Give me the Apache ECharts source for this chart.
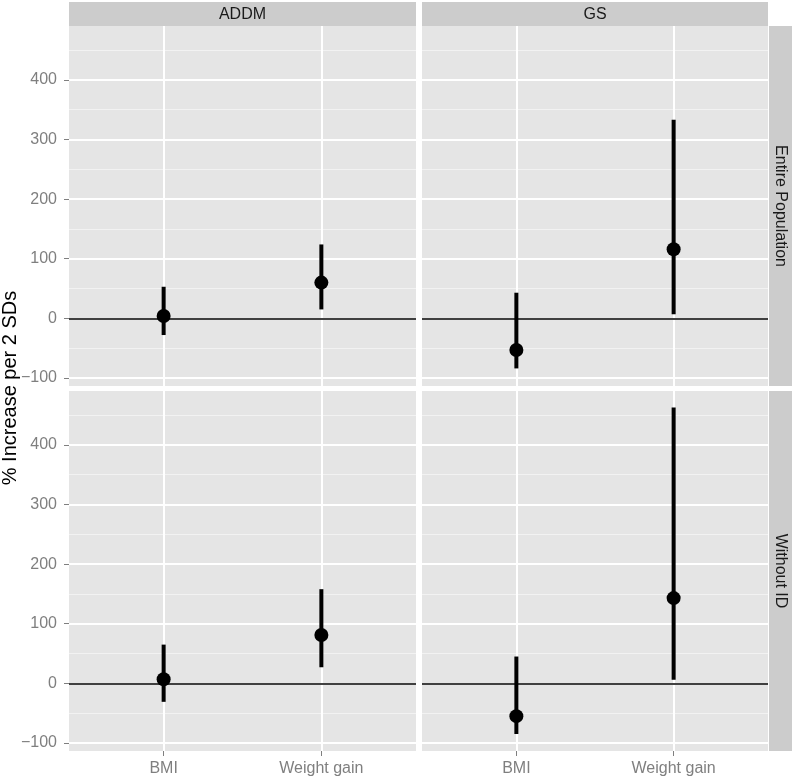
<!DOCTYPE html>
<html>
<head>
<meta charset="utf-8">
<title>% Increase per 2 SDs</title>
<script src="https://cdn.jsdelivr.net/npm/echarts@6/dist/echarts.min.js"></script>
<style>
  html, body { margin: 0; padding: 0; background: #fff; }
  #chart { width: 794px; height: 778px; }
</style>
</head>
<body>
<div id="chart"></div>
<script>
const categories = ['BMI', 'Weight gain'];
const columns = ['ADDM', 'GS'];
const rows = ['Entire Population', 'Without ID'];

const yTicks = [-100, 0, 100, 200, 300, 400];
const yMinorTicks = [-50, 50, 150, 250, 350, 450];

// point estimate, lower and upper bound, one value per category
const addmEntireEst = [4, 60];
const addmEntireLow = [-28, 15];
const addmEntireHigh = [53, 124];

const gsEntireEst = [-53, 116];
const gsEntireLow = [-84, 7];
const gsEntireHigh = [43, 333];

const addmWithoutEst = [7, 81];
const addmWithoutLow = [-31, 27];
const addmWithoutHigh = [65, 158];

const gsWithoutEst = [-55, 143];
const gsWithoutLow = [-85, 6];
const gsWithoutHigh = [45, 463];

const panels = [
  { col: 0, row: 0, est: addmEntireEst, low: addmEntireLow, high: addmEntireHigh },
  { col: 1, row: 0, est: gsEntireEst, low: gsEntireLow, high: gsEntireHigh },
  { col: 0, row: 1, est: addmWithoutEst, low: addmWithoutLow, high: addmWithoutHigh },
  { col: 1, row: 1, est: gsWithoutEst, low: gsWithoutLow, high: gsWithoutHigh },
];

const FONT = '"Liberation Sans", Arial, Helvetica, sans-serif';
const panelLeft = [69, 422];
const panelWidth = [347, 346];
const panelTop = [26, 391];
const panelHeight = 360;
const tickGrey = '#7f7f7f';

function fmtY(v) {
  return v < 0 ? '\u2212' + Math.abs(v) : String(v);
}

const grids = [];
const xAxes = [];
const yAxes = [];
const series = [];

panels.forEach((p, i) => {
  grids.push({
    left: panelLeft[p.col],
    top: panelTop[p.row],
    width: panelWidth[p.col],
    height: panelHeight,
    show: true,
    backgroundColor: '#e5e5e5',
    borderWidth: 0,
  });

  xAxes.push({
    type: 'value',
    gridIndex: i,
    min: 0.4,
    max: 2.6,
    axisLine: { show: false, onZero: false },
    axisTick: {
      show: p.row === 1,
      customValues: [1, 2],
      length: 5,
      lineStyle: { color: tickGrey, width: 1 },
    },
    axisLabel: {
      show: p.row === 1,
      customValues: [1, 2],
      formatter: (v) => categories[Math.round(v) - 1],
      color: tickGrey,
      fontSize: 16,
      fontFamily: FONT,
      margin: 10,
    },
    splitLine: { show: false },
  });

  yAxes.push({
    type: 'value',
    gridIndex: i,
    min: -113.5,
    max: 490.5,
    axisLine: { show: false, onZero: false },
    axisTick: {
      show: p.col === 0,
      customValues: yTicks,
      length: 5,
      lineStyle: { color: tickGrey, width: 1 },
    },
    axisLabel: {
      show: p.col === 0,
      customValues: yTicks,
      formatter: fmtY,
      color: tickGrey,
      fontSize: 16,
      fontFamily: FONT,
      margin: 12,
    },
    splitLine: { show: false },
  });

  // panel grid lines + zero reference line
  const lines = [];
  yMinorTicks.forEach((v) => lines.push({ yAxis: v, lineStyle: { color: '#f2f2f2', width: 1, type: 'solid' } }));
  yTicks.forEach((v) => lines.push({ yAxis: v, lineStyle: { color: '#ffffff', width: 2, type: 'solid' } }));
  categories.forEach((c, j) => lines.push({ xAxis: j + 1, lineStyle: { color: '#ffffff', width: 2, type: 'solid' } }));
  lines.push({ yAxis: 0, lineStyle: { color: '#000000', width: 1.5, type: 'solid' } });

  series.push({
    type: 'line',
    xAxisIndex: i,
    yAxisIndex: i,
    data: [],
    z: 1,
    silent: true,
    markLine: {
      z: 1,
      silent: true,
      symbol: ['none', 'none'],
      label: { show: false },
      lineStyle: { type: 'solid' },
      emphasis: { disabled: true },
      animation: false,
      data: lines,
    },
  });

  series.push({
    type: 'custom',
    xAxisIndex: i,
    yAxisIndex: i,
    z: 3,
    silent: true,
    encode: { x: 0, y: [1, 2] },
    data: categories.map((c, j) => [j + 1, p.low[j], p.high[j]]),
    renderItem: (params, api) => {
      const a = api.coord([api.value(0), api.value(1)]);
      const b = api.coord([api.value(0), api.value(2)]);
      return {
        type: 'line',
        shape: { x1: a[0], y1: a[1], x2: b[0], y2: b[1] },
        style: { stroke: '#000000', lineWidth: 4 },
      };
    },
  });

  series.push({
    type: 'scatter',
    xAxisIndex: i,
    yAxisIndex: i,
    z: 4,
    silent: true,
    symbol: 'circle',
    symbolSize: 14,
    itemStyle: { color: '#000000', opacity: 1 },
    data: categories.map((c, j) => [j + 1, p.est[j]]),
  });
});

const graphics = [];
columns.forEach((name, c) => {
  graphics.push({
    type: 'rect',
    silent: true,
    shape: { x: panelLeft[c], y: 2, width: panelWidth[c], height: 24 },
    style: { fill: '#cccccc' },
  });
  graphics.push({
    type: 'text',
    silent: true,
    x: panelLeft[c] + panelWidth[c] / 2,
    y: 14.5,
    style: { text: name, fill: '#1a1a1a', fontSize: 16, fontFamily: FONT, align: 'center', verticalAlign: 'middle' },
  });
});
rows.forEach((name, r) => {
  graphics.push({
    type: 'rect',
    silent: true,
    shape: { x: 769, y: panelTop[r], width: 23, height: panelHeight },
    style: { fill: '#cccccc' },
  });
  graphics.push({
    type: 'text',
    silent: true,
    x: 780.5,
    y: panelTop[r] + panelHeight / 2,
    rotation: -Math.PI / 2,
    style: { text: name, fill: '#1a1a1a', fontSize: 16, fontFamily: FONT, align: 'center', verticalAlign: 'middle' },
  });
});
graphics.push({
  type: 'text',
  silent: true,
  x: 10,
  y: 388,
  rotation: Math.PI / 2,
  style: { text: '% Increase per 2 SDs', fill: '#000000', fontSize: 20, fontFamily: FONT, align: 'center', verticalAlign: 'middle' },
});

const chart = echarts.init(document.getElementById('chart'), null, { renderer: 'canvas' });
chart.setOption({
  animation: false,
  backgroundColor: '#ffffff',
  grid: grids,
  xAxis: xAxes,
  yAxis: yAxes,
  series,
  graphic: graphics,
});
</script>
</body>
</html>
